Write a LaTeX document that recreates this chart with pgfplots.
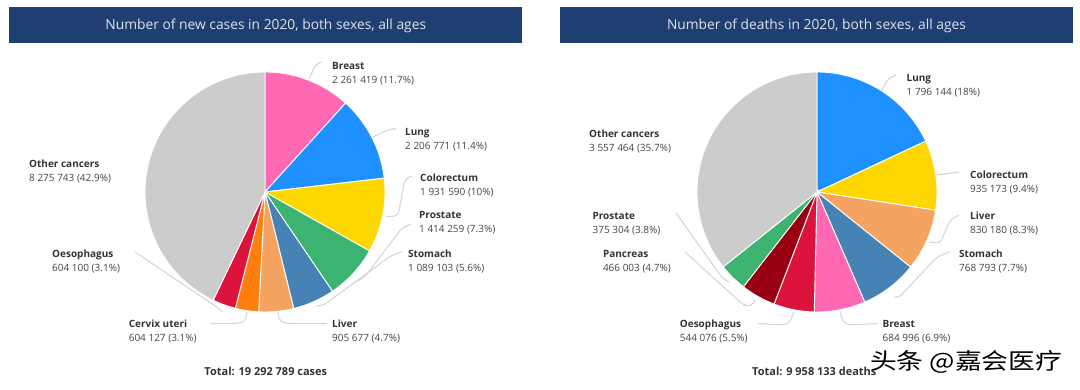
\documentclass[border=0pt]{standalone}
\usepackage{fontspec}
\setmainfont{Open Sans}
\newfontfamily\cjk{Noto Sans CJK SC}
\usepackage{graphicx}
\usepackage{pgfplots}
\pgfplotsset{compat=1.18}

\definecolor{cPink}{HTML}{FF69B4}
\definecolor{cBlue}{HTML}{1E90FF}
\definecolor{cGold}{HTML}{FFD700}
\definecolor{cGreen}{HTML}{3CB371}
\definecolor{cSteel}{HTML}{4682B4}
\definecolor{cSand}{HTML}{F4A460}
\definecolor{cOrange}{HTML}{FF7F0E}
\definecolor{cCrimson}{HTML}{DC143C}
\definecolor{cDarkred}{HTML}{990011}
\definecolor{cGrey}{HTML}{CCCCCC}
\definecolor{barblue}{HTML}{1F3F73}
\definecolor{titletext}{HTML}{DDE3EA}
\definecolor{leadc}{HTML}{D6D6D6}
\definecolor{labdark}{HTML}{333333}
\definecolor{labgrey}{HTML}{444444}

% one pie slice: value (millions), colour; running sum in \cum, total in \tot
\newcommand\slice[2]{%
  \pgfmathsetmacro\sa{90-360*(\cum/\tot)}%
  \pgfmathsetmacro\cumnew{\cum+#1}%
  \pgfmathsetmacro\sb{90-360*(\cumnew/\tot)}%
  \xdef\cum{\cumnew}%
  \edef\doslice{\noexpand\addplot[fill=#2, draw=white, line width=0.9pt, domain=\sb:\sa, samples=80] ({cos(x)},{sin(x)}) -- (axis cs:0,0) -- cycle;}%
  \doslice}

\newcommand\lab[4]{%
  \node[anchor=base west, inner sep=0, text=labdark, font=\fontsize{10}{12}\selectfont\bfseries] at (#1,#2) {#3};
  \node[anchor=base west, inner sep=0, text=labgrey, font=\fontsize{10}{12}\selectfont] at (#1,#2+14) {#4};}

\pgfplotsset{piestyle/.style={hide axis, scale only axis, width=240pt, height=240pt,
  xmin=-1, xmax=1, ymin=-1, ymax=1, clip=false, anchor=center}}

\begin{document}
\begin{tikzpicture}[x=1pt,y=1pt]
\useasboundingbox (0pt,0pt) rectangle (1080pt,390pt);

% ---------- left pie: new cases 2020 ----------
\begin{axis}[piestyle, at={(265pt,198pt)}]
\gdef\cum{0}\gdef\tot{19.292789}
\slice{2.261419}{cPink}     % Breast
\slice{2.206771}{cBlue}     % Lung
\slice{1.931590}{cGold}     % Colorectum
\slice{1.414259}{cGreen}    % Prostate
\slice{1.089103}{cSteel}    % Stomach
\slice{0.905677}{cSand}     % Liver
\slice{0.604127}{cOrange}   % Cervix uteri
\slice{0.604100}{cCrimson}  % Oesophagus
\slice{8.275743}{cGrey}     % Other cancers
\end{axis}

% ---------- right pie: deaths 2020 ----------
\begin{axis}[piestyle, at={(817pt,198pt)}]
\gdef\cum{0}\gdef\tot{9.958133}
\slice{1.796144}{cBlue}     % Lung
\slice{0.935173}{cGold}     % Colorectum
\slice{0.830180}{cSand}     % Liver
\slice{0.768793}{cSteel}    % Stomach
\slice{0.684996}{cPink}     % Breast
\slice{0.544076}{cCrimson}  % Oesophagus
\slice{0.466003}{cDarkred}  % Pancreas
\slice{0.375304}{cGreen}    % Prostate
\slice{3.557464}{cGrey}     % Other cancers
\end{axis}

\begin{scope}[shift={(0pt,390pt)}, yscale=-1]
% title bars
\fill[barblue] (9.3,6.7) rectangle (522.4,42.7);
\fill[barblue] (559.7,6.7) rectangle (1073.4,42.7);
\node[anchor=base, inner sep=0, text=titletext, font=\fontsize{13.8}{16}\selectfont] at (265.8,29.3) {Number of new cases in 2020, both sexes, all ages};
\node[anchor=base, inner sep=0, text=titletext, font=\fontsize{13.8}{16}\selectfont] at (816.5,29.3) {Number of deaths in 2020, both sexes, all ages};

% leader lines
\begin{scope}[leadc, line width=1.1pt, rounded corners=4pt]
\draw (309,79) -- (316,64) -- (322,62);
\draw (373,137) -- (387,130) -- (396,128.5);
\draw (386,216.5) -- (398,216) -- (405,179) -- (412,176);
\draw (357,281) -- (364,278) -- (402,228) -- (411,224);
\draw (316,306) -- (324,305) -- (392,255) -- (402,252);
\draw (278,312) -- (280,322) -- (289,323.5) -- (327,323.5);
\draw (247,312) -- (245,322) -- (237,323.5) -- (210,323.5);
\draw (222.5,311.5) -- (216,306.5) -- (135,252);
\draw (881.5,91) -- (888,78.5) -- (896,75);
\draw (937,175) -- (959,172);
\draw (929,242) -- (940,243.5) -- (950,220) -- (959,215);
\draw (894,297) -- (899,297.5) -- (937,257) -- (950,252);
\draw (840,312) -- (843.5,323) -- (851,325) -- (878,323.5);
\draw (793.5,312) -- (790,323) -- (781,325) -- (758,323.5);
\draw (755.5,300) -- (750.5,306.5) -- (743.5,305) -- (685,252);
\draw (729.5,282) -- (723,279) -- (676,213);
\end{scope}

% left labels
\lab{332}{69.5}{Breast}{2 261 419 (11.7\%)}
\lab{405}{135.5}{Lung}{2 206 771 (11.4\%)}
\lab{420}{182}{Colorectum}{1 931 590 (10\%)}
\lab{419}{219}{Prostate}{1 414 259 (7.3\%)}
\lab{408}{257.7}{Stomach}{1 089 103 (5.6\%)}
\lab{332}{327.5}{Liver}{905 677 (4.7\%)}
\lab{128.6}{328}{Cervix uteri}{604 127 (3.1\%)}
\lab{52}{257.7}{Oesophagus}{604 100 (3.1\%)}
\lab{29}{167.5}{Other cancers}{8 275 743 (42.9\%)}
\node[anchor=base, inner sep=0, text=labdark, font=\fontsize{11}{13}\selectfont\bfseries] at (265.8,376) {Total: 19 292 789 cases};

% right labels
\lab{906.5}{81.3}{Lung}{1 796 144 (18\%)}
\lab{970}{178.7}{Colorectum}{935 173 (9.4\%)}
\lab{970}{219.3}{Liver}{830 180 (8.3\%)}
\lab{959}{257.5}{Stomach}{768 793 (7.7\%)}
\lab{882.4}{328}{Breast}{684 996 (6.9\%)}
\lab{679.7}{328}{Oesophagus}{544 076 (5.5\%)}
\lab{602.8}{257.3}{Pancreas}{466 003 (4.7\%)}
\lab{592.4}{219.3}{Prostate}{375 304 (3.8\%)}
\lab{589}{138}{Other cancers}{3 557 464 (35.7\%)}
\node[anchor=base west, inner sep=0, text=labdark, font=\fontsize{11}{13}\selectfont\bfseries] at (752,376) {Total: 9 958 133 deaths};

% watermark
\node[anchor=base west, inner sep=0, text=black] at (870,370) {\resizebox{192pt}{19pt}{\cjk 头条 @嘉会医疗}};
\end{scope}
\end{tikzpicture}
\end{document}
